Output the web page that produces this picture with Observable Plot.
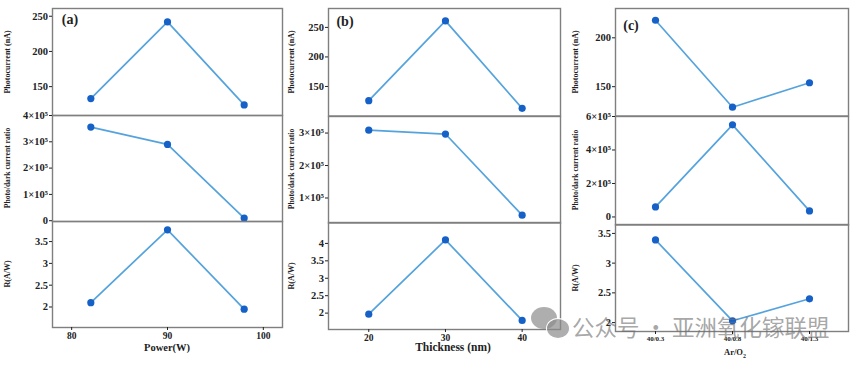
<!DOCTYPE html>
<html><head><meta charset="utf-8">
<script src="https://cdn.jsdelivr.net/npm/d3@7"></script>
<script src="https://cdn.jsdelivr.net/npm/@observablehq/plot@0.6"></script>
<style>
body{margin:0;background:#fff;}
#root{position:relative;width:859px;height:366px;overflow:hidden;font-family:"Liberation Serif","Times New Roman",serif;font-weight:bold;background:#fff;}
.p{position:absolute;}
.p svg{overflow:visible;background:transparent;}
.p svg text{font-weight:bold;fill:#222;}
.t{position:absolute;white-space:nowrap;color:#222;line-height:1;}
.wm{position:absolute;white-space:nowrap;font-family:"Noto Sans CJK SC",sans-serif;font-weight:normal;color:rgba(110,110,110,0.62);line-height:1;}
.bub{position:absolute;border-radius:50%;background:rgba(140,140,140,0.7);}
</style></head><body><div id="root"></div>
<script>
// ---- data ----
const power = [82, 90, 98];
const thickness = [20, 30, 40];
const arO2 = ["40/0.3", "40/0.8", "40/1.3"];

const photocurrentA = [133, 242, 124];
const ratioA = [3.56e5, 2.9e5, 0.1e5];
const respA = [2.1, 3.77, 1.95];

const photocurrentB = [126, 261, 113];
const ratioB = [3.09e5, 2.97e5, 0.47e5];
const respB = [1.97, 4.1, 1.79];

const photocurrentC = [218, 129, 154];
const ratioC = [0.6e5, 5.5e5, 0.36e5];
const respC = [3.39, 2.03, 2.4];

const powerTicks = [80, 90, 100];
const thicknessTicks = [20, 30, 40];
const photoTicksAB = [150, 200, 250];
const photoTicksC = [150, 200];
const ratioTicksA = [0, 1e5, 2e5, 3e5, 4e5];
const ratioTicksB = [1e5, 2e5, 3e5];
const ratioTicksC = [0, 2e5, 4e5, 6e5];
const respTicksA = [2, 2.5, 3, 3.5];
const respTicksB = [2, 2.5, 3, 3.5, 4];
const respTicksC = [2, 2.5, 3, 3.5];

const yTitles = ["Photocurrent (nA)", "Photo/dark current ratio", "R(A/W)"];

// ---- layout ----
const LINE = "#55a3dd", DOT = "#1661c7", FRAME = "#7f7f7f";
const sup5 = d => d === 0 ? "0" : `${d / 1e5}×10⁵`;
const plain = d => String(d);

const cols = [
  {svgLeft: 2, frameLeft: 52, frameRight: 282, xs: power,
   x: {type: "linear", domain: [78, 102]}, xTicks: powerTicks, xFont: 9.5,
   rows: [
     {top: 8, bottom: 115, domain: [109, 261], ticks: photoTicksAB, ys: photocurrentA, fmt: plain},
     {top: 115, bottom: 221, domain: [-0.03e5, 4e5], ticks: ratioTicksA, ys: ratioA, fmt: sup5},
     {top: 221, bottom: 327, domain: [1.53, 3.96], ticks: respTicksA, ys: respA, fmt: plain}
   ]},
  {svgLeft: 286, frameLeft: 328, frameRight: 560, xs: thickness,
   x: {type: "linear", domain: [14.75, 45]}, xTicks: thicknessTicks, xFont: 9.5,
   rows: [
     {top: 8, bottom: 115.5, domain: [100, 282], ticks: photoTicksAB, ys: photocurrentB, fmt: plain},
     {top: 115.5, bottom: 222, domain: [0.23e5, 3.51e5], ticks: ratioTicksB, ys: ratioB, fmt: sup5},
     {top: 222, bottom: 329, domain: [1.53, 4.6], ticks: respTicksB, ys: respB, fmt: plain}
   ]},
  {svgLeft: 570, frameLeft: 615, frameRight: 848, xs: arO2,
   x: {type: "point", domain: arO2, padding: 0.5}, xTicks: arO2, xFont: 7,
   rows: [
     {top: 8, bottom: 115.5, domain: [120, 230], ticks: photoTicksC, ys: photocurrentC, fmt: plain},
     {top: 115.5, bottom: 224, domain: [-0.48e5, 6e5], ticks: ratioTicksC, ys: ratioC, fmt: sup5},
     {top: 224, bottom: 331, domain: [1.85, 3.65], ticks: respTicksC, ys: respC, fmt: plain}
   ]}
];

const root = document.getElementById("root");
function addText(txt, x, y, size, opts = {}) {
  const el = document.createElement("div");
  el.className = "t";
  el.innerHTML = txt;
  el.style.left = x + "px";
  el.style.top = y + "px";
  el.style.fontSize = size + "px";
  el.style.transform = `translate(-50%,-50%)${opts.rotate ? " rotate(-90deg)" : ""}`;
  if (opts.color) el.style.color = opts.color;
  root.appendChild(el);
}

const MT = 8, MR = 4;
cols.forEach((c, ci) => {
  c.rows.forEach((r, ri) => {
    const bottomRow = ri === 2;
    const MB = bottomRow ? 18 : 6;
    const data = c.xs.map((x, i) => ({x, y: r.ys[i]}));
    const width = c.frameRight - c.svgLeft + MR;
    const height = (r.bottom - r.top) + MT + MB;
    const marks = [
      Plot.frame({stroke: FRAME, strokeWidth: 1.4}),
      Plot.axisY({ticks: r.ticks, tickFormat: r.fmt, tickSize: 3, tickPadding: 1.5, label: null, fontSize: 10.5}),
      Plot.line(data, {x: "x", y: "y", stroke: LINE, strokeWidth: 1.7}),
      Plot.dot(data, {x: "x", y: "y", r: 3.6, fill: DOT, stroke: null})
    ];
    if (bottomRow) marks.push(Plot.axisX({ticks: c.xTicks, tickSize: 3, tickPadding: 1.5, label: null, fontSize: c.xFont}));
    const chart = Plot.plot({
      width, height,
      marginLeft: c.frameLeft - c.svgLeft, marginRight: MR, marginTop: MT, marginBottom: MB,
      style: {fontFamily: "'Liberation Serif', serif", fontWeight: "bold", background: "transparent", color: "#222", overflow: "visible"},
      x: {...c.x, axis: bottomRow ? undefined : null, label: null},
      y: {domain: r.domain, label: null},
      marks
    });
    const wrap = document.createElement("div");
    wrap.className = "p";
    wrap.style.left = c.svgLeft + "px";
    wrap.style.top = (r.top - MT) + "px";
    wrap.appendChild(chart);
    root.appendChild(wrap);
    // y title
    addText(yTitles[ri], c.svgLeft + 6, (r.top + r.bottom) / 2, ri === 1 ? 7.6 : 8, {rotate: true});
  });
});

// panel letters
addText("(a)", 70, 20, 14);
addText("(b)", 345, 22, 14);
addText("(c)", 631, 26, 14);

// x titles
addText("Power(W)", 167, 348, 10.5);
addText("Thickness (nm)", 453, 348, 11.5);
addText("Ar/O<sub style='font-size:0.7em'>2</sub>", 735, 354, 8.5);

// watermark
const b1 = document.createElement("div"); b1.className = "bub";
Object.assign(b1.style, {left: "531px", top: "307px", width: "26px", height: "22px"});
root.appendChild(b1);
const b2 = document.createElement("div"); b2.className = "bub";
Object.assign(b2.style, {left: "546px", top: "318px", width: "22px", height: "19px", border: "1.5px solid #fff"});
root.appendChild(b2);
const wm = document.createElement("div");
wm.className = "wm";
wm.textContent = "公众号 · 亚洲氧化镓联盟";
Object.assign(wm.style, {left: "572px", top: "315px", fontSize: "22.5px"});
root.appendChild(wm);
</script></body></html>
